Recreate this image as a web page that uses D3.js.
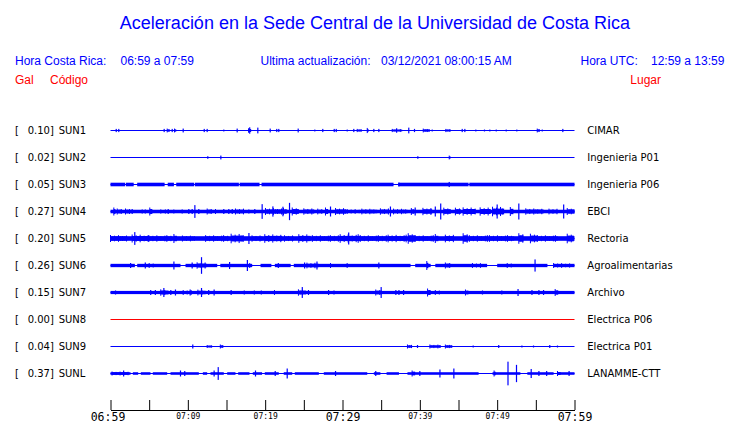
<!DOCTYPE html>
<html><head><meta charset="utf-8">
<script src="https://cdn.jsdelivr.net/npm/d3@7"></script>
<style>
html,body{margin:0;padding:0;background:#fff;}
svg{display:block;}
</style></head>
<body>
<svg id="chart" width="740" height="423"></svg>
<script>
// ---------- data ----------
const title = "Aceleración en la Sede Central de la Universidad de Costa Rica";
const horaCR = "06:59 a 07:59";
const horaUTC = "12:59 a 13:59";
const actualizacion = "03/12/2021 08:00:15 AM";
const codes  = ["SUN1","SUN2","SUN3","SUN4","SUN5","SUN6","SUN7","SUN8","SUN9","SUNL"];
const peaks  = ["0.10","0.02","0.05","0.27","0.20","0.26","0.15","0.00","0.04","0.37"];
const places = ["CIMAR","Ingenieria P01","Ingenieria P06","EBCI","Rectoria","Agroalimentarias","Archivo","Electrica P06","Electrica P01","LANAMME-CTT"];
const tickMinutes = [0,5,10,15,20,25,30,35,40,45,50,55,60];
const tickLabels  = ["06:59","","07:09","","07:19","","07:29","","07:39","","07:49","","07:59"];
const majorTicks  = ["06:59","07:29","07:59"];

// background noise half-amplitude (Gal) per station
const noise = [0, 0, 0.056, 0.055, 0.072, 0.052, 0.05, 0, 0, 0.04];

// quiet spans (minutes) where noise band drops to the bare line
const quiet = {
  SUN3: [[1.9,2.0],[3.0,3.45],[7.0,7.4],[8.2,8.5],[10.8,10.9],[16.6,16.7],[19.27,19.53],[36.6,37.2],[46.3,46.4]],
  SUN6: [[3.15,3.45],[9.05,9.7],[13.8,14.2],[18.3,19.4],[20.8,21.25],[23.3,23.7],[38.8,39.4],[41.4,42.0],[48.7,50.0],[56.5,57.3]],
  SUNL: [[2.59,2.89],[3.58,3.92],[5.17,5.47],[7.33,7.76],[11.42,11.94],[12.5,12.93],[14.65,15.09],[16.16,16.51],[17.97,18.4],[19.6,19.95],[21.76,22.4],[23.5,23.83],[26.94,27.58],[33.2,34.05],[34.9,35.7],[37.3,38.4],[47.6,49.4],[53.0,53.9],[57.3,57.8]]
};

// events: [start minute, end minute, half-amplitude in Gal]
const SUN1 = [[0.74,0.74,.05],[1.07,1.07,.05],[6.94,6.94,.05],[7.33,7.63,.06],[7.98,7.98,.05],[8.28,8.5,.06],[9.4,9.4,.06],[12.12,12.12,.05],[12.5,12.5,.05],[14.65,14.65,.03],[16.38,16.38,.06],[17.85,18.19,.07],[18.0,18.0,.10],[19.05,19.05,.09],[20.65,20.65,.06],[21.5,21.5,.05],[21.76,21.76,.05],[24.27,24.27,.06],[26.42,26.42,.03],[27.45,27.45,.05],[28.93,28.93,.05],[29.19,29.19,.05],[30.61,30.61,.03],[31.46,31.46,.05],[31.9,32.42,.05],[33.2,33.36,.08],[34.05,34.05,.05],[34.7,34.7,.05],[36.43,37.72,.05],[37.0,37.0,.07],[38.57,38.57,.09],[39.31,39.31,.05],[40.44,41.29,.06],[41.6,41.6,.03],[43.36,43.97,.05],[45.48,45.48,.05],[45.82,45.82,.05],[47.24,47.24,.03],[48.36,48.36,.03],[49.05,49.05,.03],[49.88,49.88,.03],[51.17,51.17,.03],[52.54,52.54,.03],[55.18,55.51,.06],[55.83,55.83,.03],[58.49,58.49,.05]];
const SUN2 = [[12.58,12.58,.04],[14.27,14.27,.06],[39.74,39.74,.04],[43.8,43.97,.06]];
const SUN3 = [[43.8,43.8,.08],[37.3,37.3,.06]];
const SUN4 = [[0.43,0.65,.125],[0.87,1.51,.094],[1.94,2.59,.094],[2.8,2.8,.078],[4.1,4.1,.063],[4.5,4.5,.063],[5.08,5.39,.125],[6.5,6.5,.063],[7.1,7.1,.063],[7.46,7.46,.078],[8.19,8.62,.063],[9.27,9.27,.063],[10.13,10.13,.078],[10.56,10.56,.078],[10.91,10.91,.20],[11.42,11.42,.078],[12.5,13.15,.094],[13.58,14.0,.078],[14.65,14.65,.078],[15.3,15.3,.078],[15.74,15.74,.078],[16.16,17.24,.094],[17.89,17.89,.063],[18.66,18.66,.078],[19.61,19.61,.23],[20.04,22.85,.11],[21.0,21.0,.16],[22.3,22.3,.15],[23.15,23.15,.27],[23.5,24.35,.125],[25.0,26.3,.10],[26.8,27.4,.09],[27.8,28.15,.125],[28.45,28.45,.156],[29.1,30.4,.11],[30.6,32.3,.078],[32.5,34.5,.09],[34.9,36.0,.10],[36.2,36.2,.156],[36.6,38.4,.09],[38.9,39.3,.109],[39.4,39.4,.125],[40.4,41.6,.115],[42.0,42.0,.156],[42.7,42.7,.25],[43.1,44.0,.12],[44.6,45.3,.12],[45.6,47.2,.13],[47.8,49.1,.13],[49.4,50.9,.15],[50.0,50.0,.22],[51.7,52.1,.14],[52.8,52.8,.25],[53.7,56.0,.10],[56.7,57.8,.09],[58.6,58.6,.22],[59.06,60,.109]];
const SUN5 = [[0,2.16,.109],[2.8,4.96,.125],[3.14,3.14,.20],[4.96,8.0,.105],[8.2,8.6,.141],[9.3,10.9,.094],[12.3,15.3,.105],[15.6,17.2,.15],[17.9,17.9,.172],[18.3,19.6,.10],[19.95,22.2,.135],[22.5,23.7,.10],[24.35,25.9,.135],[26.1,30.4,.105],[29.7,32.3,.135],[30.8,30.8,.188],[32.3,35.8,.105],[35.9,38.3,.12],[38.5,39.4,.165],[39.4,41.8,.105],[42.0,42.4,.14],[43.3,44.4,.12],[45.6,46.2,.165],[46.4,48.8,.105],[49.0,52.2,.105],[52.8,53.4,.165],[54.3,55.2,.15],[55.2,57.8,.105],[59.06,59.9,.15]];
const SUN6 = [[2.6,2.6,.078],[4.5,4.5,.094],[5.0,5.6,.078],[8.2,8.2,.125],[10.56,10.56,.094],[11.2,12.4,.10],[11.77,11.77,.26],[15.4,15.4,.109],[17.7,17.7,.172],[18.0,18.3,.078],[21.7,21.7,.078],[25.1,25.1,.094],[25.4,26.9,.09],[26.7,26.7,.125],[28.45,28.8,.078],[30.6,31.0,.078],[34.7,34.7,.094],[40.9,41.1,.14],[43.3,44.0,.094],[46.8,48.3,.078],[51.3,51.9,.078],[54.9,54.9,.19],[57.3,59.5,.078]];
const SUN7 = [[0.65,0.65,.063],[5.2,5.2,.078],[5.8,5.8,.078],[6.5,7.5,.10],[6.9,6.9,.141],[7.8,7.8,.078],[8.4,8.4,.094],[9.4,10.6,.078],[10.3,10.3,.094],[11.3,12.3,.09],[11.77,11.77,.141],[12.7,12.7,.078],[13.4,13.4,.094],[15.6,15.6,.078],[17.3,17.3,.063],[18.6,18.6,.063],[19.5,19.5,.063],[21.2,21.4,.078],[24.3,25.3,.10],[24.8,24.8,.17],[25.6,25.6,.078],[28.2,28.2,.078],[28.9,28.9,.063],[34.3,35.1,.094],[35.0,35.0,.17],[36.9,36.9,.078],[37.3,37.3,.078],[37.9,37.9,.078],[41.0,41.4,.125],[42.0,42.9,.078],[45.9,46.3,.094],[48.1,48.1,.063],[50.6,50.6,.063],[52.7,52.7,.109],[54.5,54.5,.078],[55.4,55.4,.078],[56.0,56.0,.078],[57.5,57.9,.109]];
const SUN8 = [];
const SUN9 = [[10.64,10.64,.063],[12.5,13.15,.047],[14.2,14.6,.063],[38.4,39.0,.063],[39.7,39.7,.047],[41.3,42.7,.063],[43.3,44.2,.063],[46.9,46.9,.031],[50.2,50.2,.047],[53.2,53.2,.031],[54.7,54.7,.031],[56.8,56.8,.047],[57.8,57.8,.031]];
const SUNL = [[0.2,2.3,.063],[1.7,1.7,.094],[9.05,9.05,.094],[9.6,9.6,.078],[13.4,13.4,.094],[13.93,13.93,.20],[18.75,18.75,.094],[21.3,21.3,.078],[22.85,22.85,.156],[29.1,29.1,.078],[34.3,34.3,.078],[39.0,39.4,.094],[40.0,40.0,.078],[42.6,42.6,.125],[44.4,44.4,.156],[49.6,49.8,.094],[51.4,51.4,.37],[52.5,52.5,.27],[54.4,54.4,.141],[55.4,55.4,.078],[56.4,56.4,.078],[57.8,58.2,.078],[59.3,59.3,.078]];
const events = {SUN1,SUN2,SUN3,SUN4,SUN5,SUN6,SUN7,SUN8,SUN9,SUNL};
const traceColors = ["#0000ff","#0000ff","#0000ff","#0000ff","#0000ff","#0000ff","#0000ff","#ff0000","#0000ff","#0000ff"];

// ---------- drawing ----------
const svg = d3.select("#chart");
const x = d3.scaleLinear().domain([0,60]).range([110.5,574.5]);
const y = d3.scalePoint().domain(codes).range([130.5,373.5]);
const amp = d3.scaleLinear().domain([0,1]).range([0,32]);
// fixed stroke texture used to render a burst as a comb of vertical strokes
const comb = [1,0.55,0.8,0.45,0.95,0.6,0.7,0.5,0.85];

const sans = "'Liberation Sans', Arial, Helvetica, sans-serif";
const dejavu = "'DejaVu Sans', Verdana, sans-serif";
const mono = "'DejaVu Sans Mono', monospace";
const blue = "#0000ff", red = "#ff0000";

svg.append("text").attr("x",375).attr("y",29).attr("text-anchor","middle")
  .attr("font-family",sans).attr("font-size",18).attr("fill",blue).text(title);

const hdr = [
  {t:"Hora Costa Rica:", x:15, c:blue, y:65},
  {t:horaCR, x:120.5, c:blue, y:65},
  {t:"Ultima actualización:", x:260.5, c:blue, y:65},
  {t:actualizacion, x:381, c:blue, y:65},
  {t:"Hora UTC:", x:580.5, c:blue, y:65},
  {t:horaUTC, x:651, c:blue, y:65},
  {t:"Gal", x:15, c:red, y:84},
  {t:"Código", x:50, c:red, y:84},
  {t:"Lugar", x:630.3, c:red, y:84}
];
svg.selectAll("text.hdr").data(hdr).join("text").attr("class","hdr")
  .attr("x",d=>d.x).attr("y",d=>d.y).attr("font-family",sans).attr("font-size",12)
  .attr("fill",d=>d.c).text(d=>d.t);

// left / right labels
const lab = svg.append("g").attr("font-family",dejavu).attr("font-size",10).attr("fill","#000");
codes.forEach((c,i)=>{
  const yy = y(c)+3.6;
  lab.append("text").attr("x",15).attr("y",yy).text("[");
  lab.append("text").attr("x",27.7).attr("y",yy).text(peaks[i]+"]");
  lab.append("text").attr("x",58.7).attr("y",yy).text(c);
  lab.append("text").attr("x",587.3).attr("y",yy).text(places[i]);
});

// traces
const tr = svg.append("g");
codes.forEach((c,i)=>{
  const g = tr.append("g").attr("fill",traceColors[i]).attr("stroke","none");
  const y0 = y(c);
  g.append("rect").attr("x",x(0)).attr("width",x(60)-x(0)).attr("y",y0-0.5).attr("height",1);
  if (noise[i] > 0) {
    const q = (quiet[c]||[]).slice().sort((a,b)=>a[0]-b[0]);
    const spans = []; let s = 0;
    q.forEach(([a,b])=>{ if(a>s) spans.push([s,a]); s=Math.max(s,b); });
    if (s<60) spans.push([s,60]);
    g.selectAll("rect.band").data(spans).join("rect").attr("class","band")
      .attr("x",d=>x(d[0])).attr("width",d=>x(d[1])-x(d[0]))
      .attr("y",y0-amp(noise[i])).attr("height",2*amp(noise[i]));
  }
  const ev = events[c];
  g.selectAll("rect.sp").data(ev.filter(d=>d[1]===d[0])).join("rect").attr("class","sp")
    .attr("x",d=>x(d[0])-0.6).attr("width",1.2)
    .attr("y",d=>y0-amp(d[2])).attr("height",d=>2*amp(d[2]));
  ev.filter(d=>d[1]>d[0]).forEach(d=>{
    const x0 = x(d[0]), x1 = x(d[1]);
    g.append("rect").attr("x",x0).attr("width",x1-x0)
      .attr("y",y0-amp(d[2])*0.6).attr("height",2*amp(d[2])*0.6);
    const xs = d3.range(x0, x1+0.01, 2);
    g.selectAll(null).data(xs).join("rect")
      .attr("x",xx=>xx-0.5).attr("width",1)
      .attr("y",(xx,k)=>y0-amp(d[2])*comb[k%comb.length])
      .attr("height",(xx,k)=>2*amp(d[2])*comb[k%comb.length]);
  });
});

// time axis
const axis = d3.axisBottom(x).tickValues(tickMinutes)
  .tickFormat((d,i)=>tickLabels[i]).tickSizeInner(-10).tickSizeOuter(0).tickPadding(0);
const ag = svg.append("g").attr("transform","translate(0,410)").call(axis);
ag.select(".domain").attr("stroke","#000").attr("stroke-width",1);
ag.selectAll(".tick line").attr("stroke","#000");
const isMajor = d => majorTicks.includes(tickLabels[tickMinutes.indexOf(d)]);
ag.selectAll(".tick text").attr("fill","#000").attr("dy",null)
  .attr("font-family",mono).attr("font-weight",300)
  .attr("font-size",d=>isMajor(d)?11.5:8)
  .attr("dx",d=>d===0?-3:0)
  .attr("y",d=>isMajor(d)?10.5:9);
</script>
</body></html>
